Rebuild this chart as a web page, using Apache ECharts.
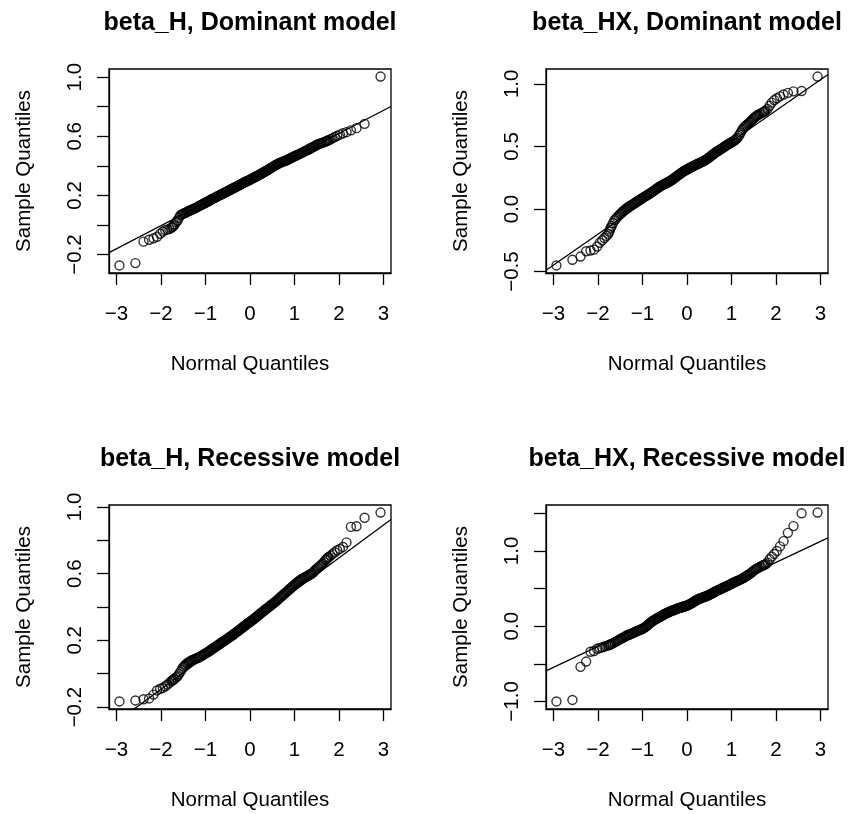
<!DOCTYPE html>
<html><head><meta charset="utf-8">
<script src="https://cdn.jsdelivr.net/npm/echarts@6/dist/echarts.min.js"></script>
<style>html,body{margin:0;padding:0;background:#fff}#c{width:850px;height:814px}</style>
</head><body><div id="c"></div>
<script>
const panelTitles = ['beta_H, Dominant model','beta_HX, Dominant model','beta_H, Recessive model','beta_HX, Recessive model'];
const xAxisName = 'Normal Quantiles';
const yAxisName = 'Sample Quantiles';

// theoretical normal quantiles (shared x values), full range
const normalQ = [
-2.935,-2.576,-2.394,-2.268,-2.170,-2.090,-2.020,-1.960,-1.906,-1.857,-1.812,-1.770,-1.732,-1.695,-1.629,-1.569,-1.514,-1.464,-1.417,-1.372,-1.331,-1.291,-1.236,-1.183,-1.134,-1.088,-1.044,-1.002,-0.961,-0.922,-0.884,-0.847,-0.801,-0.755,-0.711,-0.669,-0.628,-0.588,-0.548,-0.510,-0.473,-0.435,-0.399,-0.363,-0.328,-0.292,-0.258,-0.223,-0.189,-0.155,-0.121,-0.088,-0.054,-0.021,
0.021,0.054,0.088,0.121,0.155,0.189,0.223,0.258,0.292,0.328,0.363,0.399,0.435,0.473,0.510,0.548,0.588,0.628,0.669,0.711,0.755,0.801,0.847,0.884,0.922,0.961,1.002,1.044,1.088,1.134,1.183,1.236,1.291,1.331,1.372,1.417,1.464,1.514,1.569,1.629,1.695,1.732,1.770,1.812,1.857,1.906,1.960,2.020,2.090,2.170,2.268,2.394,2.576,2.935];

// further theoretical quantiles in the dense central part
const normalQMid = [
-1.263,-1.209,-1.158,-1.111,-1.066,-1.023,-0.981,-0.941,-0.903,-0.865,-0.824,-0.778,-0.733,-0.690,-0.648,-0.608,-0.568,-0.529,-0.491,-0.454,-0.417,-0.381,-0.345,-0.310,-0.275,-0.240,-0.206,-0.172,-0.138,-0.104,-0.071,-0.038,-0.004,
0.004,0.038,0.071,0.104,0.138,0.172,0.206,0.240,0.275,0.310,0.345,0.381,0.417,0.454,0.491,0.529,0.568,0.608,0.648,0.690,0.733,0.778,0.824,0.865,0.903,0.941,0.981,1.023,1.066,1.111,1.158,1.209,1.263];

// further theoretical quantiles on the shoulders
const normalQEdge = [
-1.749,-1.713,-1.662,-1.599,-1.541,-1.489,-1.440,-1.394,-1.351,-1.311,
1.311,1.351,1.394,1.440,1.489,1.541,1.599,1.662,1.713,1.749];

const sampleDomH = [
-0.274,-0.258,-0.113,-0.100,-0.090,-0.080,-0.060,-0.045,-0.035,-0.030,-0.028,-0.020,-0.010,0.005,0.030,0.065,0.075,0.080,0.088,0.095,0.100,0.105,0.113,0.122,0.130,0.137,0.144,0.150,0.157,0.163,0.170,0.176,0.183,0.190,0.197,0.203,0.209,0.215,0.222,0.228,0.233,0.240,0.245,0.250,0.256,0.262,0.267,0.272,0.278,0.284,0.289,0.294,0.298,0.303,
0.310,0.315,0.320,0.326,0.331,0.337,0.342,0.348,0.354,0.360,0.366,0.372,0.380,0.386,0.393,0.400,0.407,0.413,0.420,0.425,0.430,0.435,0.442,0.447,0.453,0.459,0.465,0.471,0.477,0.484,0.491,0.499,0.507,0.513,0.520,0.528,0.535,0.543,0.550,0.556,0.564,0.569,0.574,0.580,0.587,0.595,0.603,0.611,0.620,0.628,0.640,0.655,0.684,1.004];
const sampleDomHMid = [
0.110,0.117,0.126,0.134,0.141,0.147,0.154,0.160,0.166,0.173,0.180,0.186,0.194,0.200,0.206,0.212,0.219,0.225,0.231,0.236,0.243,0.248,0.253,0.259,0.264,0.270,0.275,0.281,0.286,0.292,0.296,0.301,0.305,
0.307,0.312,0.318,0.323,0.328,0.334,0.339,0.345,0.351,0.357,0.363,0.369,0.376,0.383,0.389,0.396,0.404,0.410,0.417,0.422,0.428,0.433,0.438,0.445,0.450,0.456,0.462,0.468,0.474,0.481,0.487,0.495,0.503];
const sampleDomHEdge = [
-0.015,-0.003,0.018,0.048,0.070,0.078,0.084,0.092,0.098,0.103,
0.510,0.517,0.524,0.531,0.539,0.547,0.553,0.560,0.566,0.571];

const sampleDomHX = [
-0.451,-0.406,-0.380,-0.338,-0.332,-0.325,-0.300,-0.270,-0.250,-0.232,-0.215,-0.200,-0.165,-0.135,-0.090,-0.065,-0.045,-0.028,-0.012,0.000,0.012,0.022,0.035,0.045,0.058,0.068,0.078,0.088,0.097,0.105,0.113,0.122,0.132,0.143,0.155,0.166,0.176,0.185,0.193,0.200,0.206,0.213,0.220,0.228,0.236,0.245,0.254,0.263,0.272,0.281,0.290,0.298,0.305,0.312,
0.320,0.327,0.333,0.339,0.345,0.351,0.357,0.363,0.369,0.375,0.381,0.388,0.396,0.405,0.415,0.426,0.437,0.448,0.458,0.467,0.477,0.488,0.499,0.508,0.516,0.525,0.533,0.542,0.553,0.568,0.595,0.630,0.655,0.668,0.680,0.695,0.712,0.730,0.745,0.758,0.770,0.778,0.788,0.800,0.825,0.850,0.870,0.885,0.900,0.915,0.928,0.940,0.943,1.058];
const sampleDomHXMid = [
0.028,0.040,0.052,0.063,0.073,0.083,0.092,0.101,0.109,0.118,0.127,0.138,0.149,0.160,0.171,0.180,0.189,0.197,0.203,0.210,0.216,0.224,0.232,0.240,0.249,0.258,0.268,0.276,0.285,0.294,0.301,0.309,0.315,
0.317,0.323,0.330,0.336,0.342,0.348,0.354,0.360,0.366,0.372,0.378,0.384,0.392,0.400,0.410,0.420,0.431,0.442,0.453,0.462,0.472,0.482,0.493,0.503,0.512,0.520,0.529,0.537,0.547,0.560,0.582,0.612,0.642];
const sampleDomHXEdge = [
-0.182,-0.150,-0.112,-0.078,-0.055,-0.036,-0.020,-0.006,0.006,0.017,
0.662,0.674,0.688,0.703,0.721,0.738,0.752,0.764,0.774,0.783];

const sampleRecH = [
-0.166,-0.160,-0.153,-0.148,-0.125,-0.100,-0.090,-0.085,-0.075,-0.065,-0.055,-0.045,-0.038,-0.030,-0.015,0.010,0.035,0.050,0.062,0.070,0.076,0.082,0.088,0.094,0.100,0.108,0.115,0.122,0.128,0.135,0.142,0.149,0.157,0.165,0.173,0.181,0.189,0.196,0.203,0.210,0.217,0.224,0.231,0.238,0.245,0.252,0.259,0.266,0.273,0.280,0.287,0.294,0.301,0.308,
0.315,0.322,0.329,0.336,0.343,0.351,0.358,0.366,0.373,0.381,0.388,0.396,0.403,0.411,0.419,0.427,0.436,0.445,0.455,0.465,0.475,0.486,0.497,0.506,0.515,0.524,0.533,0.543,0.553,0.562,0.570,0.578,0.586,0.592,0.598,0.606,0.620,0.632,0.645,0.660,0.680,0.690,0.700,0.708,0.718,0.728,0.740,0.748,0.760,0.787,0.880,0.884,0.935,0.966];
const sampleRecHMid = [
0.085,0.091,0.097,0.104,0.111,0.118,0.125,0.131,0.138,0.145,0.153,0.161,0.169,0.177,0.185,0.192,0.199,0.206,0.213,0.220,0.227,0.234,0.241,0.248,0.255,0.262,0.269,0.276,0.283,0.290,0.297,0.304,0.310,
0.312,0.318,0.325,0.332,0.339,0.347,0.354,0.362,0.369,0.377,0.384,0.392,0.399,0.407,0.415,0.423,0.431,0.440,0.450,0.460,0.470,0.480,0.491,0.501,0.510,0.519,0.528,0.538,0.548,0.557,0.566,0.574,0.582];
const sampleRecHEdge = [
-0.041,-0.034,-0.022,-0.002,0.022,0.043,0.056,0.066,0.073,0.079,
0.589,0.595,0.602,0.613,0.626,0.638,0.652,0.670,0.685,0.695];

const sampleRecHX = [
-1.000,-0.980,-0.540,-0.470,-0.340,-0.330,-0.300,-0.290,-0.280,-0.270,-0.262,-0.255,-0.245,-0.235,-0.215,-0.195,-0.175,-0.160,-0.145,-0.130,-0.118,-0.110,-0.095,-0.080,-0.068,-0.055,-0.045,-0.035,-0.020,-0.005,0.015,0.035,0.055,0.075,0.090,0.105,0.120,0.132,0.145,0.160,0.170,0.180,0.190,0.200,0.208,0.216,0.224,0.232,0.240,0.246,0.252,0.258,0.264,0.270,
0.280,0.290,0.300,0.312,0.325,0.338,0.350,0.360,0.368,0.376,0.384,0.392,0.400,0.410,0.420,0.432,0.445,0.458,0.470,0.482,0.495,0.508,0.520,0.530,0.540,0.552,0.565,0.578,0.590,0.602,0.615,0.632,0.650,0.665,0.680,0.698,0.720,0.745,0.765,0.785,0.805,0.815,0.825,0.845,0.890,0.925,0.960,1.000,1.060,1.130,1.240,1.330,1.500,1.510];
const sampleRecHXMid = [
-0.102,-0.088,-0.074,-0.062,-0.050,-0.040,-0.028,-0.012,0.005,0.025,0.045,0.065,0.083,0.098,0.112,0.126,0.138,0.152,0.165,0.175,0.185,0.195,0.204,0.212,0.220,0.228,0.236,0.243,0.249,0.255,0.261,0.267,0.274,
0.276,0.285,0.295,0.306,0.318,0.331,0.344,0.355,0.364,0.372,0.380,0.388,0.396,0.405,0.415,0.426,0.438,0.451,0.464,0.476,0.488,0.501,0.514,0.525,0.535,0.546,0.558,0.571,0.584,0.596,0.608,0.623,0.641];
const sampleRecHXEdge = [
-0.250,-0.240,-0.225,-0.205,-0.185,-0.168,-0.152,-0.138,-0.124,-0.114,
0.658,0.672,0.689,0.709,0.732,0.755,0.775,0.795,0.810,0.820];

const lineIntercept = [0.307, 0.293, 0.301, 0.290];
const lineSlope = [0.156, 0.2466, 0.1967, 0.279];

const xTicks = [-3,-2,-1,0,1,2,3];
const yTicksDomH = [-0.2,0.0,0.2,0.4,0.6,0.8,1.0];
const yLabelsDomH = [-0.2,0.2,0.6,1.0];
const yTicksDomHX = [-0.5,0.0,0.5,1.0];
const yLabelsDomHX = [-0.5,0.0,0.5,1.0];
const yTicksRecH = [-0.2,0.0,0.2,0.4,0.6,0.8,1.0];
const yLabelsRecH = [-0.2,0.2,0.6,1.0];
const yTicksRecHX = [-1.0,-0.5,0.0,0.5,1.0,1.5];
const yLabelsRecHX = [-1.0,0.0,1.0];

const samples = [sampleDomH, sampleDomHX, sampleRecH, sampleRecHX];
const samplesMid = [sampleDomHMid, sampleDomHXMid, sampleRecHMid, sampleRecHXMid];
const samplesEdge = [sampleDomHEdge, sampleDomHXEdge, sampleRecHEdge, sampleRecHXEdge];
const yTicks = [yTicksDomH, yTicksDomHX, yTicksRecH, yTicksRecHX];
const yLabels = [yLabelsDomH, yLabelsDomHX, yLabelsRecH, yLabelsRecHX];

const boxes = [{left:109,top:69},{left:546,top:69},{left:109,top:505},{left:546,top:505}];
const W = 282, H = 204;
const FONT = 'Liberation Sans, Arial, Helvetica, sans-serif';

function rRange(arr){
  const lo = Math.min(...arr), hi = Math.max(...arr), d = (hi - lo) * 0.04;
  return [lo - d, hi + d];
}
function fmtX(v){ return (v < 0 ? '\u2212' : '') + Math.abs(v); }
function fmtY(v){ return (v < -1e-9 ? '\u2212' : '') + Math.abs(v).toFixed(1); }

const xr = rRange(normalQ);
const grid = [], xAxis = [], yAxis = [], series = [], title = [];
for (let i = 0; i < 4; i++) {
  const b = boxes[i];
  grid.push({left:b.left, top:b.top, width:W, height:H, show:true, borderColor:'#000', borderWidth:1.3, backgroundColor:'transparent'});
  const yr = rRange(samples[i]);
  xAxis.push({
    type:'value', gridIndex:i, min:xr[0], max:xr[1],
    axisLine:{show:true, onZero:false, lineStyle:{color:'#000', width:1.3}},
    axisTick:{show:true, inside:false, length:12, customValues:xTicks, lineStyle:{color:'#000', width:1.3}},
    axisLabel:{show:true, customValues:xTicks, formatter:fmtX, fontSize:20.5, color:'#000', fontFamily:FONT, margin:31},
    splitLine:{show:false},
    name:xAxisName, nameLocation:'middle', nameGap:81,
    nameTextStyle:{fontSize:20.5, color:'#000', fontFamily:FONT}
  });
  yAxis.push({
    type:'value', gridIndex:i, min:yr[0], max:yr[1],
    axisLine:{show:true, onZero:false, lineStyle:{color:'#000', width:1.3}},
    axisTick:{show:true, inside:false, length:12, customValues:yTicks[i], lineStyle:{color:'#000', width:1.3}},
    axisLabel:{show:true, customValues:yLabels[i], formatter:fmtY, fontSize:20.5, color:'#000', fontFamily:FONT, rotate:90, margin:23},
    splitLine:{show:false},
    name:yAxisName, nameLocation:'middle', nameGap:74,
    nameTextStyle:{fontSize:20.5, color:'#000', fontFamily:FONT}
  });
  const pts = normalQ.map((x, k) => [x, samples[i][k]])
    .concat(normalQMid.map((x, k) => [x, samplesMid[i][k]]))
    .concat(normalQEdge.map((x, k) => [x, samplesEdge[i][k]]));
  series.push({
    type:'scatter', xAxisIndex:i, yAxisIndex:i,
    data: pts,
    symbol:'circle', symbolSize:9,
    itemStyle:{color:'rgba(0,0,0,0)', borderColor:'#000', borderWidth:1.4},
    silent:true
  });
  series.push({
    type:'line', xAxisIndex:i, yAxisIndex:i, clip:true,
    data: [[xr[0], lineIntercept[i] + lineSlope[i]*xr[0]], [xr[1], lineIntercept[i] + lineSlope[i]*xr[1]]],
    symbol:'none', lineStyle:{color:'#000', width:1.3}, silent:true
  });
  title.push({
    text: panelTitles[i], left: b.left + W/2, top: b.top - 58, textAlign:'center', padding:0,
    textStyle:{fontSize:25, fontWeight:'bold', color:'#000', fontFamily:FONT}
  });
}

const chart = echarts.init(document.getElementById('c'), null, {renderer:'canvas'});
chart.setOption({animation:false, backgroundColor:'#fff', title, grid, xAxis, yAxis, series});
</script>
</body></html>
